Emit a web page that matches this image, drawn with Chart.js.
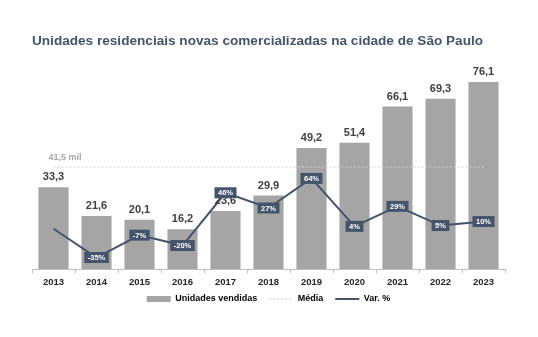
<!DOCTYPE html>
<html>
<head>
<meta charset="utf-8">
<script src="https://cdn.jsdelivr.net/npm/chart.js@4/dist/chart.umd.min.js"></script>
<style>
html,body{margin:0;padding:0;background:#fff;}
#wrap{width:538px;height:337px;}
</style>
</head>
<body>
<div id="wrap"><canvas id="c" width="538" height="337"></canvas></div>
<script>
const years = ['2013','2014','2015','2016','2017','2018','2019','2020','2021','2022','2023'];
const unidades = [33.3,21.6,20.1,16.2,23.6,29.9,49.2,51.4,66.1,69.3,76.1];
const varPct = [1,-35,-7,-20,46,27,64,4,29,5,10];
const varLabels = ['', '-35%','-7%','-20%','46%','27%','64%','4%','29%','5%','10%'];
const media = 41.5;
const mediaLabel = '41,5 mil';
const titleText = 'Unidades residenciais novas comercializadas na cidade de São Paulo';
const legendNames = ['Unidades vendidas', 'Média', 'Var. %'];

const FONT = "'Liberation Sans', Arial, sans-serif";
const SLATE = '#44546a';
const BAR = '#a5a5a5';

const labelPlugin = {
  id: 'labels',
  afterDatasetsDraw(chart) {
    const ctx = chart.ctx;
    ctx.save();
    const barMeta = chart.getDatasetMeta(2);
    ctx.font = "bold 11px " + FONT;
    ctx.fillStyle = '#404040';
    ctx.textAlign = 'center';
    ctx.textBaseline = 'middle';
    barMeta.data.forEach((el, i) => {
      ctx.fillText(unidades[i].toFixed(1).replace('.', ','), el.x, el.y - 10);
    });
    const mMeta = chart.getDatasetMeta(1);
    const p0 = mMeta.data[0];
    ctx.font = "bold 9px " + FONT;
    ctx.fillStyle = '#a6a6a6';
    ctx.textAlign = 'left';
    ctx.fillText(mediaLabel, p0.x - 5, p0.y - 9);
    const lMeta = chart.getDatasetMeta(0);
    ctx.font = "bold 7.5px " + FONT;
    ctx.textAlign = 'center';
    lMeta.data.forEach((el, i) => {
      const t = varLabels[i];
      if (!t) return;
      const w = ctx.measureText(t).width + 7;
      const h = 11;
      ctx.fillStyle = SLATE;
      ctx.fillRect(el.x - w / 2, el.y - h / 2, w, h);
      ctx.fillStyle = '#ffffff';
      ctx.fillText(t, el.x, el.y + 0.5);
    });
    ctx.restore();
  }
};

new Chart(document.getElementById('c'), {
  data: {
    labels: years,
    datasets: [
      {
        type: 'line', label: legendNames[2], data: varPct, yAxisID: 'y2',
        borderColor: SLATE, borderWidth: 2, pointRadius: 0, tension: 0, order: 0
      },
      {
        type: 'line', label: legendNames[1], data: years.map(() => media), yAxisID: 'y',
        borderColor: '#d0d0d0', borderWidth: 1, borderDash: [2, 2], pointRadius: 0, order: 1
      },
      {
        type: 'bar', label: legendNames[0], data: unidades, yAxisID: 'y',
        backgroundColor: BAR, borderWidth: 0, barPercentage: 0.7, categoryPercentage: 1, order: 2
      }
    ]
  },
  options: {
    responsive: false,
    animation: false,
    events: [],
    layout: { padding: { left: 32, right: 33, top: 0, bottom: 23.5 } },
    scales: {
      x: {
        offset: true,
        grid: { display: true, drawOnChartArea: false, offset: true, color: '#bfbfbf', tickLength: 4 },
        border: { display: true, color: '#bfbfbf' },
        ticks: { color: '#262626', font: { family: FONT, size: 9.5, weight: 'bold' }, padding: 4 }
      },
      y: { display: false, min: 0, max: 80.4 },
      y2: { display: false, min: -49.5, max: 198 }
    },
    plugins: {
      title: {
        display: true, text: titleText, align: 'start', color: SLATE,
        font: { family: FONT, size: 13.6, weight: 'bold' },
        padding: { top: 33, bottom: 22 }
      },
      legend: {
        position: 'bottom',
        labels: {
          usePointStyle: true, pointStyleWidth: 24, boxHeight: 6, padding: 2,
          color: '#262626', font: { family: FONT, size: 9, weight: 'bold' },
          generateLabels(chart) {
            return [
              { text: legendNames[0] + '    ', pointStyle: 'rect', fillStyle: BAR, strokeStyle: BAR, lineWidth: 0, datasetIndex: 2 },
              { text: legendNames[1] + '    ', pointStyle: 'line', fillStyle: '#c8c8c8', strokeStyle: '#c8c8c8', lineWidth: 1, lineDash: [2, 2], datasetIndex: 1 },
              { text: legendNames[2], pointStyle: 'line', fillStyle: SLATE, strokeStyle: SLATE, lineWidth: 2, datasetIndex: 0 }
            ];
          }
        }
      },
      tooltip: { enabled: false }
    }
  },
  plugins: [labelPlugin]
});
</script>
</body>
</html>
